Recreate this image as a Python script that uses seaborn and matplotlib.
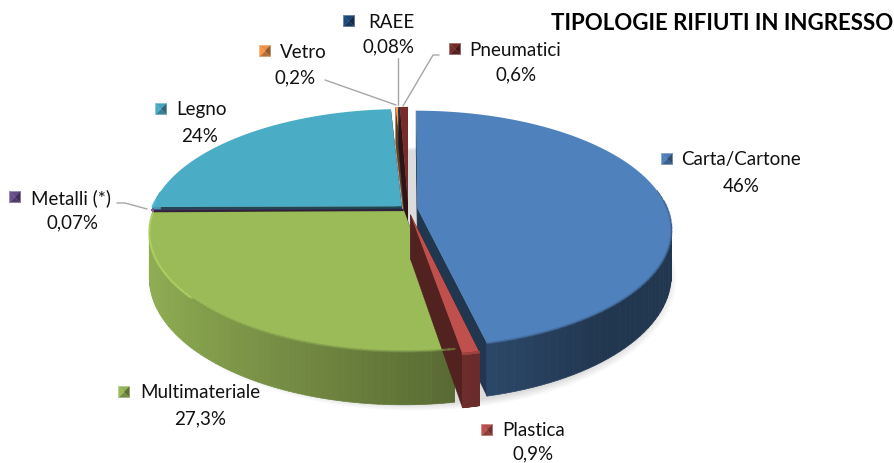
import numpy as np
import matplotlib
matplotlib.use("Agg")
import matplotlib.pyplot as plt
import seaborn as sns

categories = ['Carta/Cartone', 'Plastica', 'Multimateriale', 'Metalli (*)',
              'Legno', 'Vetro', 'RAEE', 'Pneumatici']
values = [46, 0.9, 27.3, 0.07, 24, 0.2, 0.08, 0.6]
value_labels = ['46%', '0,9%', '27,3%', '0,07%', '24%', '0,2%', '0,08%', '0,6%']
explode = [0.038, 0.05, 0.024, 0.02, 0.035, 0.05, 0.05, 0.05]
base_colors = ['#4F81BD', '#C0504D', '#9BBB59', '#6A4F8F',
               '#4BACC6', '#F79646', '#1F497D', '#772C2A']
title = 'TIPOLOGIE RIFIUTI IN INGRESSO'

# where the labels sit: marker x, marker y, text x, value centre x, value y
label_pos = {
    'Carta/Cartone': (667, 159, 681, 741, 185),
    'Plastica': (487, 430, 502, 533, 453),
    'Multimateriale': (124, 392, 140, 200, 418),
    'Metalli (*)': (15, 197, 31, 73, 222),
    'Legno': (161, 109, 176, 200, 135),
    'Vetro': (265, 51, 280, 295, 77),
    'RAEE': (349, 21, 368, 389, 46),
    'Pneumatici': (455, 49, 469, 516, 74),
}
leaders = [
    ([117, 125, 147], [203, 203, 209]),
    ([325, 396], [80, 105]),
    ([398, 398], [58, 105]),
    ([439, 433, 403], [55, 55, 106]),
]

CX, CY = 408, 209
RX, RY = 250, 115
PERSP = 0.174
DEPTH = 44
DRAW_ORDER = [4, 5, 6, 7, 3, 0, 2, 1]

sns.set_theme(style='white')
plt.rcParams['font.family'] = ['Lato', 'DejaVu Sans']


def project(x, y, z=0.0):
    w = 1 + PERSP * y
    return CX + RX * x / w, CY - RY * y / w + DEPTH * z / w


def light(x):
    # the sides get lit from the left
    return np.clip(0.62 - 0.32 * x, 0.42, 0.92)


def shade(color, f):
    return tuple(np.clip(np.array(matplotlib.colors.to_rgb(color)) * f, 0, 1))


def draw_slice(ax, wedge, color):
    cx, cy = wedge.center
    t = np.radians(np.linspace(wedge.theta1, wedge.theta2, 90))
    ax_, ay_ = cx + np.cos(t), cy + np.sin(t)

    # cut walls
    for ex, ey in [(ax_[0], ay_[0]), (ax_[-1], ay_[-1])]:
        px = [project(cx, cy)[0], project(ex, ey)[0], project(ex, ey, 1)[0], project(cx, cy, 1)[0]]
        py = [project(cx, cy)[1], project(ex, ey)[1], project(ex, ey, 1)[1], project(cx, cy, 1)[1]]
        ax.fill(px, py, color=shade(color, 0.42), lw=0.3)

    # outer wall, cut in strips for the shading
    for i in range(len(t) - 1):
        if ay_[i] > 0.15 and ay_[i + 1] > 0.15:
            continue
        x0, y0 = project(ax_[i], ay_[i])
        x1, y1 = project(ax_[i + 1], ay_[i + 1])
        x2, y2 = project(ax_[i + 1], ay_[i + 1], 1)
        x3, y3 = project(ax_[i], ay_[i], 1)
        c = shade(color, light(np.cos(t[i])))
        ax.fill([x0, x1, x2, x3], [y0, y1, y2, y3], color=c, lw=0.5)

    # top face
    tx, ty = project(np.r_[cx, ax_], np.r_[cy, ay_])
    ax.fill(tx, ty, color=color, lw=0)

    # bevel along the near part of the rim
    rx, ry = project(ax_, ay_)
    for i in range(0, len(t) - 1):
        if np.sin(t[i]) > 0.05:
            continue
        f = 1.15 if np.cos(t[i]) < -0.75 else 0.82
        ax.plot(rx[i:i + 2], ry[i:i + 2], color=shade(color, f), lw=1.6,
                solid_capstyle='round', alpha=0.55)


def draw_marker(ax, x, y, color, half=5.5):
    corners = [(x - half, y - half), (x + half, y - half), (x + half, y + half), (x - half, y + half)]
    factors = [0.95, 0.6, 0.75, 1.0]
    for i, f in enumerate(factors):
        a, b = corners[i], corners[(i + 1) % 4]
        ax.fill([a[0], b[0], x], [a[1], b[1], y], color=shade(color, f), lw=0.2)


fig = plt.figure(figsize=(8.95, 4.63), dpi=100)
ax = fig.add_axes([0, 0, 1, 1])

# pie only gives the angles and the exploded centres, then it gets projected by hand
wedges, _ = ax.pie(values, explode=explode, startangle=90, counterclock=False)
for w in wedges:
    w.set_visible(False)
ax.set_aspect('auto')
ax.set_xlim(0, 895)
ax.set_ylim(463, 0)
ax.axis('off')

# soft shadow under the pie
tt = np.linspace(0, 2 * np.pi, 200)
for s in np.linspace(1.035, 1.0, 6):
    sx, sy = project(0.02 + s * np.cos(tt), s * np.sin(tt), 1.05)
    ax.fill(sx, sy, color='#555555', alpha=0.035, lw=0)

for i in DRAW_ORDER:
    draw_slice(ax, wedges[i], base_colors[i])

for lx, ly in leaders:
    ax.plot(lx, ly, color='#A6A6A6', lw=1)

for name, val, col in zip(categories, value_labels, base_colors):
    mx, my, tx, vx, vy = label_pos[name]
    draw_marker(ax, mx, my, col)
    ax.text(tx, my + 1, name, fontsize=13.5, color='#111111', ha='left', va='center')
    ax.text(vx, vy + 1, val, fontsize=13.5, color='#111111', ha='center', va='center')

ax.text(893, 23, title, fontsize=16, fontweight='bold', color='black', ha='right', va='center')

fig.savefig('out.png', dpi=100)
